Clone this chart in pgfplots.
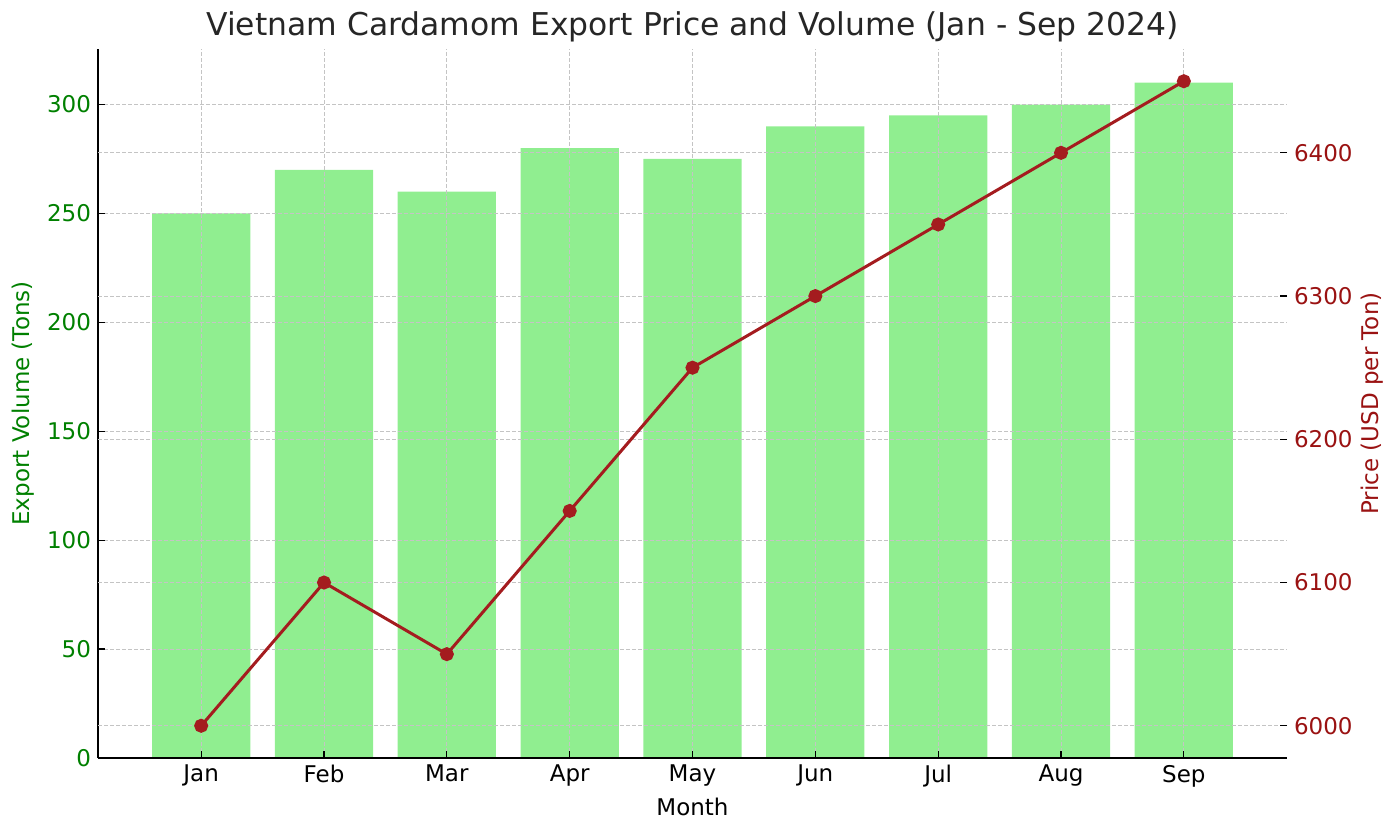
\documentclass[border=0pt]{standalone}
\usepackage{fontspec}
\setmainfont{DejaVu Sans}
\usepackage{pgfplots}
\pgfplotsset{compat=1.18}
\definecolor{barg}{HTML}{90EE90}
\definecolor{lgreen}{HTML}{008000}
\definecolor{dred}{HTML}{9A1212}
\definecolor{lred}{HTML}{A41C1F}
\definecolor{gridc}{HTML}{C4C4C4}
\definecolor{titlec}{HTML}{262626}
\begin{document}
\begin{tikzpicture}
\pgfplotsset{
  every axis/.append style={
    scale only axis, width=594.5pt, height=354.5pt,
    at={(49pt,38pt)}, anchor=south west,
    xmin=-0.84, xmax=8.84,
    /pgf/number format/assume math mode=true,
    /pgf/number format/1000 sep={},
    tick label style={font=\fontsize{11.5}{13.7}\selectfont},
    major tick length=3.5pt,
    grid style={gridc, line width=0.5pt, dash pattern=on 2pt off 1pt},
    every tick/.style={black, line width=0.6pt},
  }
}
\begin{axis}[
  axis on top,
  ymin=0, ymax=325.5,
  axis x line*=bottom, axis y line*=left,
  axis line style={black, line width=1pt},
  xtick={0,...,8},
  xticklabels={Jan,Feb,Mar,Apr,May,Jun,Jul,Aug,Sep},
  ytick={0,50,...,300},
  yticklabel style={lgreen},
  xmajorgrids, ymajorgrids,
  scaled y ticks=false,
]
\addplot[ybar, bar width=0.8, fill=barg, draw=none] coordinates {
  (0,250) (1,270) (2,260) (3,280) (4,275) (5,290) (6,295) (7,300) (8,310)
};
\end{axis}
\begin{axis}[
  ymin=5977.5, ymax=6472.5,
  axis x line*=bottom, x axis line style={draw=none}, xtick=\empty,
  axis y line*=right, y axis line style={draw=none},
  ytick={6000,6100,...,6400},
  yticklabel style={dred},
  ymajorgrids,
  scaled y ticks=false,
]
\addplot[lred, line width=1.5pt, mark=*, mark size=2.75pt, mark options={fill=lred, draw=lred, solid}] coordinates {
  (0,6000) (1,6100) (2,6050) (3,6150) (4,6250) (5,6300) (6,6350) (7,6400) (8,6450)
};
\end{axis}
\node[titlec, font=\fontsize{15.7}{19}\selectfont] at (346.25pt,403.5pt) {Vietnam Cardamom Export Price and Volume (Jan - Sep 2024)};
\node[black, font=\fontsize{11.5}{13.7}\selectfont] at (346.25pt,13.7pt) {Month};
\node[lgreen, rotate=90, font=\fontsize{11.5}{13.7}\selectfont] at (11.5pt,215.25pt) {Export Volume (Tons)};
\node[dred, rotate=90, font=\fontsize{11.5}{13.7}\selectfont] at (686pt,215.25pt) {Price (USD per Ton)};
\pgfresetboundingbox
\useasboundingbox (0,0) rectangle (700pt,417pt);
\end{tikzpicture}
\end{document}
